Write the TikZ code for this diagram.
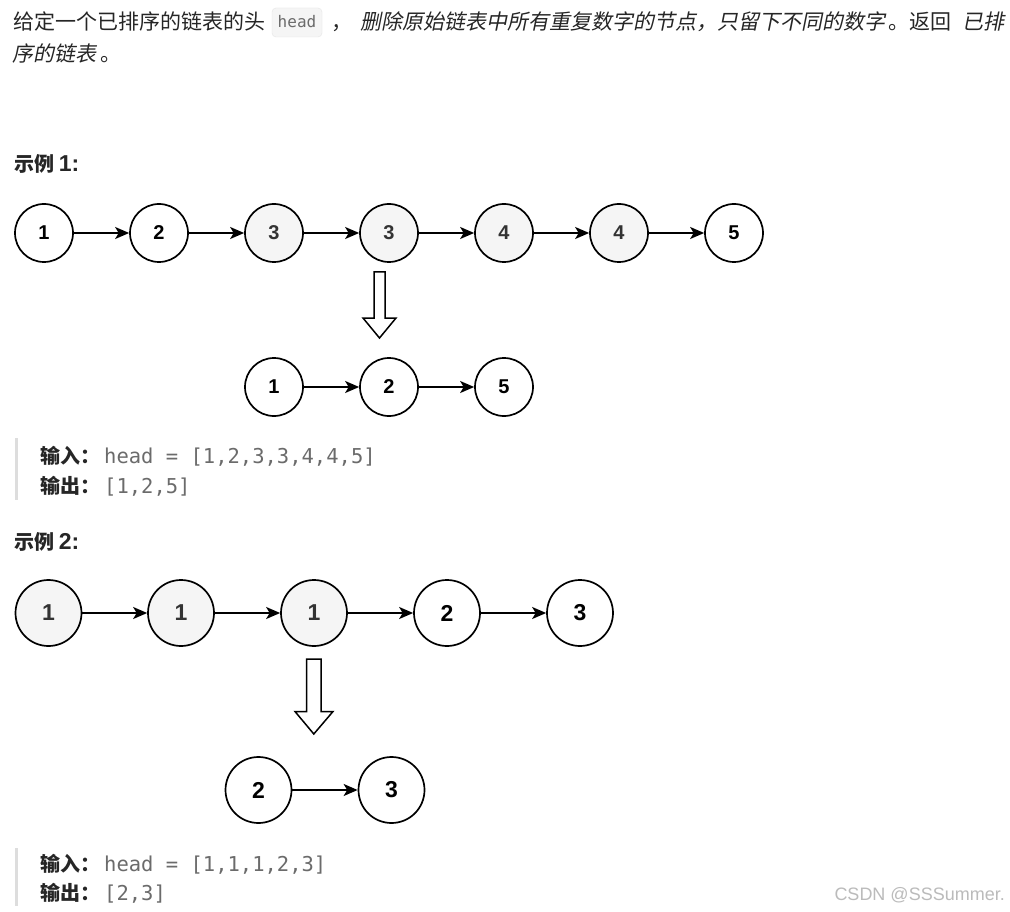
\documentclass[tikz,border=0pt]{standalone}
\usepackage{fontspec}
\setmainfont{Liberation Sans}
\setmonofont{DejaVu Sans Mono}
\newfontfamily\cjk{Noto Sans CJK SC}
\newfontfamily\cjkit{Noto Sans CJK SC}[FakeSlant=0.2]
\usetikzlibrary{arrows.meta}
\definecolor{txt}{HTML}{262626}
\definecolor{codegray}{HTML}{6B6B6B}
\definecolor{nodegray}{HTML}{F5F5F5}
\definecolor{bar}{HTML}{DDDDDD}
\definecolor{wm}{HTML}{BBBBBB}
\tikzset{
  lnode/.style={circle, draw=black, line width=1.7pt, minimum size=58pt, inner sep=0pt,
    font=\fontsize{20}{20}\selectfont\bfseries, text=black, fill=white},
  lnodeg/.style={lnode, fill=nodegray, text=black!80},
  bnode/.style={lnode, minimum size=66pt, font=\fontsize{23}{23}\selectfont\bfseries},
  bnodeg/.style={bnode, fill=nodegray, text=black!80},
  conn/.style={line width=1.7pt, -{Stealth[length=14pt,width=12pt,inset=3.5pt]}},
  hollow/.style={draw=black, line width=1.5pt, fill=white, line join=miter},
  txtn/.style={anchor=base west, inner sep=0pt, text=txt},
  cn/.style={txtn, font=\cjk\fontsize{21}{21}\selectfont},
  cni/.style={txtn, font=\cjkit\fontsize{21}{21}\selectfont},
  lab/.style={txtn, font=\cjk\bfseries\fontsize{20}{20}\selectfont, text=black!85},
  code/.style={anchor=base west, inner sep=0pt, text=codegray, font=\ttfamily\fontsize{20.5}{20.5}\selectfont},
}
\begin{document}
\begin{tikzpicture}[x=1pt,y=-1pt]
\useasboundingbox[fill=white] (0,0) rectangle (1010,912);
% --- intro text
\node[cn] (t1) at (13,30) {给定一个已排序的链表的头};
\draw[draw=black!10, fill=nodegray, rounded corners=4pt] (272,8) rectangle (322,37);
\node[anchor=base, inner sep=0pt, text=codegray, font=\ttfamily\fontsize{16}{16}\selectfont] (hd) at (297,28) {head};
\node[cn] (t2) at (331,30) {，};
\node[cni] (t3) at (360,30) {删除原始链表中所有重复数字的节点，只留下不同的数字};
\node[cn] (t4) at (888,30) {。返回};
\node[cni] (t5) at (962,30) {已排};
\node[cni] (t6) at (12,62) {序的链表};
\node[cn] (t7) at (100,62) {。};
% --- example 1
\node[lab] (ex1) at (14,172) {示例 {\fontspec{Liberation Sans}\bfseries\fontsize{23}{23}\selectfont 1:}};
\node[lnode]  (a1) at (44,233)  {1};
\node[lnode]  (a2) at (159,233) {2};
\node[lnodeg] (a3) at (274,233) {3};
\node[lnodeg] (a4) at (389,233) {3};
\node[lnodeg] (a5) at (504,233) {4};
\node[lnodeg] (a6) at (619,233) {4};
\node[lnode]  (a7) at (734,233) {5};
\foreach \i/\j in {a1/a2,a2/a3,a3/a4,a4/a5,a5/a6,a6/a7}
  \draw[conn] (\i) -- (\j);
\draw[hollow] (374,272) -- (385,272) -- (385,318) -- (396,318) -- (379.5,338) -- (363,318) -- (374,318) -- cycle;
\node[lnode] (r1) at (274,387) {1};
\node[lnode] (r2) at (389,387) {2};
\node[lnode] (r3) at (504,387) {5};
\draw[conn] (r1) -- (r2);
\draw[conn] (r2) -- (r3);
\fill[bar] (15,438) rectangle (18,500);
\node[lab] (in1) at (40,463) {输入：};
\node[code] (c1) at (104,463) {head = [1,2,3,3,4,4,5]};
\node[lab] (out1) at (40,493) {输出：};
\node[code] (c2) at (104,493) {[1,2,5]};
% --- example 2
\node[lab] (ex2) at (14,549) {示例 {\fontspec{Liberation Sans}\bfseries\fontsize{23}{23}\selectfont 2:}};
\node[bnodeg] (b1) at (48.5,613) {1};
\node[bnodeg] (b2) at (181,613) {1};
\node[bnodeg] (b3) at (314,613) {1};
\node[bnode]  (b4) at (447,613) {2};
\node[bnode]  (b5) at (580,613) {3};
\foreach \i/\j in {b1/b2,b2/b3,b3/b4,b4/b5}
  \draw[conn] (\i) -- (\j);
\draw[hollow] (306.5,659) -- (321,659) -- (321,711.5) -- (333,711.5) -- (313.8,734) -- (295,711.5) -- (306.5,711.5) -- cycle;
\node[bnode] (s1) at (258.5,790) {2};
\node[bnode] (s2) at (391.5,790) {3};
\draw[conn] (s1) -- (s2);
\fill[bar] (15,848) rectangle (18,906);
\node[lab] (in2) at (40,871) {输入：};
\node[code] (c3) at (104,871) {head = [1,1,1,2,3]};
\node[lab] (out2) at (40,900) {输出：};
\node[code] (c4) at (104,900) {[2,3]};
\node[anchor=base east, inner sep=0pt, text=wm, font=\fontsize{18}{18}\selectfont] (wmk) at (1005,900) {CSDN @SSSummer.};
\end{tikzpicture}
\end{document}
